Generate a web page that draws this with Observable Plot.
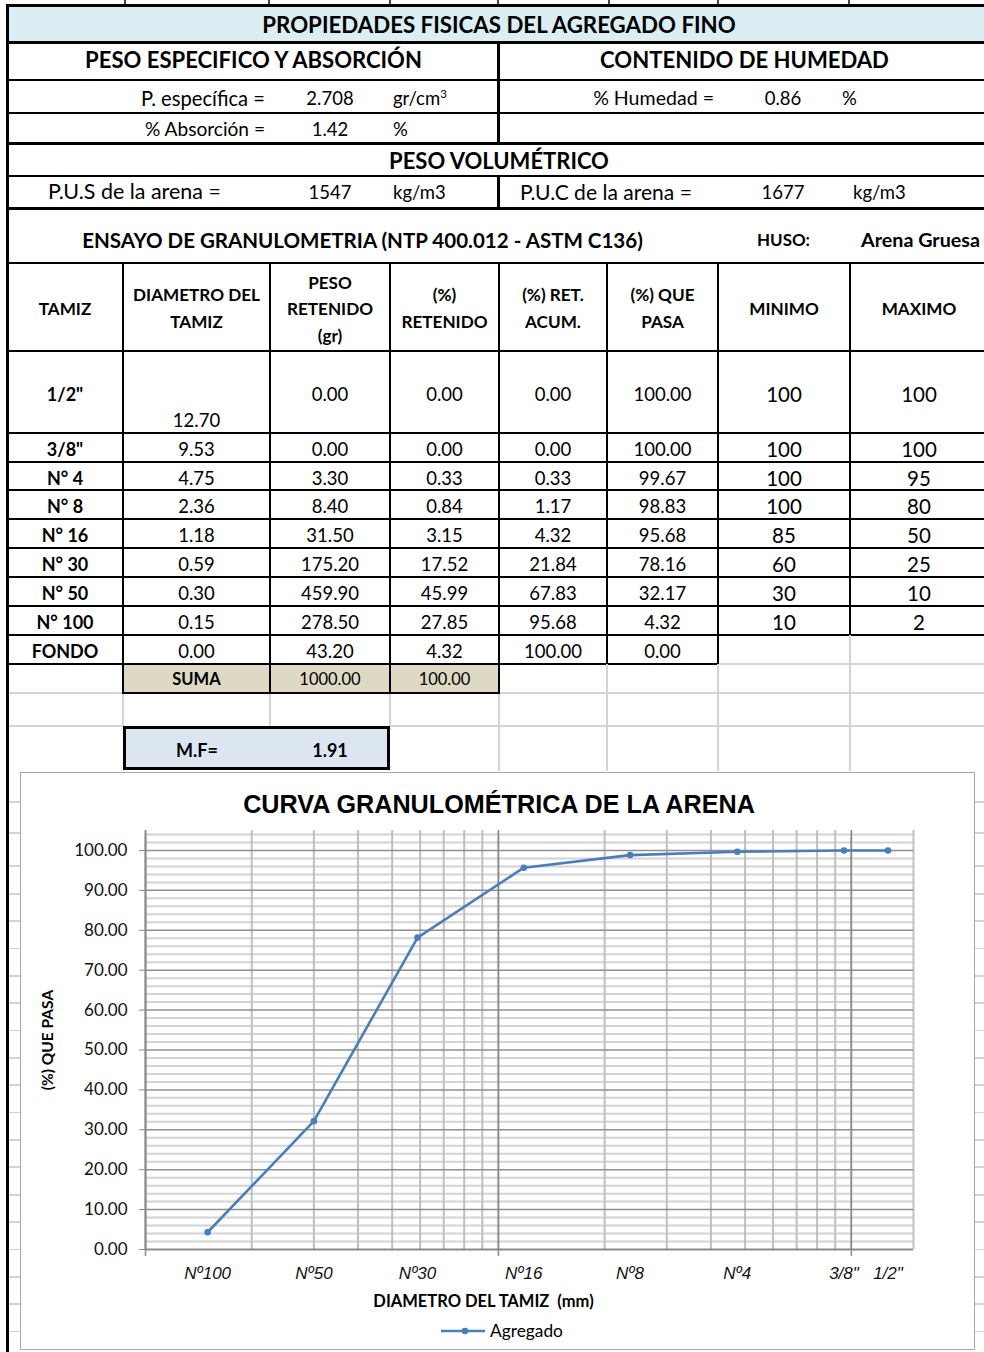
<!DOCTYPE html>
<html><head><meta charset="utf-8">
<script src="https://cdn.jsdelivr.net/npm/d3@7"></script>
<script src="https://cdn.jsdelivr.net/npm/@observablehq/plot@0.6"></script>
<style>
body{margin:0;background:#fff;font-family:Lato,sans-serif;}
#page{position:relative;width:984px;height:1352px;overflow:hidden;background:#fff;}
</style></head><body><div id="page"></div>
<script>
// ---------------- DATA ----------------
const tamiz = ['1/2"', '3/8"', 'N° 4', 'N° 8', 'N° 16', 'N° 30', 'N° 50', 'N° 100', 'FONDO'];
const diametro = [12.70, 9.53, 4.75, 2.36, 1.18, 0.59, 0.30, 0.15, 0.00];
const pesoRetenido = [0.00, 0.00, 3.30, 8.40, 31.50, 175.20, 459.90, 278.50, 43.20];
const pctRetenido = [0.00, 0.00, 0.33, 0.84, 3.15, 17.52, 45.99, 27.85, 4.32];
const retAcum = [0.00, 0.00, 0.33, 1.17, 4.32, 21.84, 67.83, 95.68, 100.00];
const quePasa = [100.00, 100.00, 99.67, 98.83, 95.68, 78.16, 32.17, 4.32, 0.00];
const minimo = [100, 100, 100, 100, 85, 60, 30, 10];
const maximo = [100, 100, 95, 80, 50, 25, 10, 2];
const chartLabels = ['1/2"', '3/8"', 'Nº4', 'Nº8', 'Nº16', 'Nº30', 'Nº50', 'Nº100'];
const sumaPeso = 1000.00, sumaPct = 100.00, moduloFinura = 1.91;
const pEspecifica = 2.708, absorcion = 1.42, humedad = 0.86, pus = 1547, puc = 1677;
const husoNombre = 'Arena Gruesa';
const yTicks = [0, 10, 20, 30, 40, 50, 60, 70, 80, 90, 100];

// ---------------- HELPERS ----------------
const page = document.getElementById('page');
function el(css, html) { const e = document.createElement('div'); e.style.cssText = 'position:absolute;' + css; if (html != null) e.innerHTML = html; page.appendChild(e); return e; }
function rect(x1, y1, x2, y2, bg, extra = '') { el(`left:${x1}px;top:${y1}px;width:${x2 - x1}px;height:${y2 - y1}px;background:${bg};${extra}`); }
function hl(x1, x2, y, w = 2, c = '#000') { el(`left:${x1}px;top:${y - w / 2}px;width:${x2 - x1}px;height:${w}px;background:${c}`); }
function vl(x, y1, y2, w = 2, c = '#000') { el(`left:${x - w / 2}px;top:${y1}px;width:${w}px;height:${y2 - y1}px;background:${c}`); }
function txt(s, x, y, o = {}) {
  const a = o.a || 'm', size = o.size || 18.5;
  const tx = a === 'm' ? '-50%' : a === 'e' ? '-100%' : '0';
  const e = el(`white-space:pre;line-height:1;font-family:${o.font || 'Lato'},sans-serif;font-size:${size}px;font-weight:${o.bold ? (o.weight || 'bold') : 'normal'};font-style:${o.italic ? 'italic' : 'normal'};color:#000;left:${x}px;top:${y}px;transform:translate(${tx},-50%)`, o.html ? s : null);
  if (!o.html) e.textContent = s;
  if (o.w) { const w = e.getBoundingClientRect().width; e.style.fontSize = (size * o.w / w) + 'px'; }
  return e;
}
const f2 = v => v.toFixed(2);
const LG = '#d4d4d4';

// ---------------- SPREADSHEET ----------------
const L = 7, R = 984;
const colC = [65, 196.5, 330, 444.5, 553, 662.5, 784, 919];
const rowB = [351, 433, 462, 490, 519, 548, 577, 606, 635, 664, 693];

[125, 269, 390, 498, 609, 718, 849].forEach(x => vl(x, 0, 5, 2, '#444'));
rect(L, 5, R, 42, '#daeef3');
hl(L, R, 5, 3); hl(L, R, 42, 3); hl(L, R, 80, 2); hl(L, R, 113, 2); hl(L, R, 143, 3); hl(L, R, 176, 2); hl(L, R, 208, 3); hl(L, R, 263, 2);
vl(498, 42, 143, 3); vl(498, 176, 208, 3);

txt('PROPIEDADES FISICAS DEL AGREGADO FINO', 499, 25, { bold: true, size: 20, w: 474 });
txt('PESO ESPECIFICO Y ABSORCIÓN', 253.5, 60, { bold: true, size: 21, w: 337 });
txt('CONTENIDO DE HUMEDAD', 744.5, 60, { bold: true, size: 21, w: 289 });
txt('P. específica =', 265, 98, { a: 'e', size: 17, w: 124 });
txt(pEspecifica.toFixed(3), 330, 98, { size: 18.5 });
txt('gr/cm<sup style="font-size:0.62em;line-height:0;vertical-align:0.55em">3</sup>', 393, 98, { a: 's', size: 18.5, html: true });
txt('% Humedad =', 714, 98, { a: 'e', size: 17, w: 121 });
txt(f2(humedad), 783, 98, { size: 18.5 });
txt('%', 842, 98, { a: 's', size: 18.5 });
txt('% Absorción =', 265, 128.5, { a: 'e', size: 17, w: 120 });
txt(f2(absorcion), 330, 128.5, { size: 18.5 });
txt('%', 393, 128.5, { a: 's', size: 18.5 });
txt('PESO VOLUMÉTRICO', 499, 160.5, { bold: true, size: 21, w: 220 });
txt('P.U.S de la arena =', 48, 192, { a: 's', size: 17, w: 173 });
txt(String(pus), 330, 192, { size: 18.5 });
txt('kg/m3', 393, 192, { a: 's', size: 18.5 });
txt('P.U.C de la arena =', 520, 192, { a: 's', size: 17, w: 172 });
txt(String(puc), 783, 192, { size: 18.5 });
txt('kg/m3', 853, 192, { a: 's', size: 18.5 });
txt('ENSAYO DE GRANULOMETRIA (NTP 400.012 - ASTM C136)', 362.5, 240, { bold: true, size: 19.5, w: 561 });
txt('HUSO:', 783.5, 240, { bold: true, size: 17, w: 53 });
txt(husoNombre, 920.5, 240, { bold: true, size: 17, w: 119 });

// table header (shared size taken from the widest header line)
const hsEl = txt('DIAMETRO DEL', colC[1], 295, { bold: true, size: 17, w: 127 });
const hs = parseFloat(hsEl.style.fontSize);
const H = (s, x, y) => txt(s, x, y, { bold: true, size: hs });
H('TAMIZ', colC[0], 309);
H('TAMIZ', colC[1], 322);
H('PESO', colC[2], 282.5); H('RETENIDO', colC[2], 309); H('(gr)', colC[2], 336);
H('(%)', colC[3], 295); H('RETENIDO', colC[3], 322);
H('(%) RET.', colC[4], 295); H('ACUM.', colC[4], 322);
H('(%) QUE', colC[5], 295); H('PASA', colC[5], 322);
H('MINIMO', colC[6], 309); H('MAXIMO', colC[7], 309);

// table lines
rowB.slice(0, 9).forEach(y => hl(L, R, y, 2));
hl(L, 718, 664, 2); hl(718, R, 664, 1.5, LG);
hl(L, 123, 693, 1.5, LG); hl(499, R, 693, 1.5, LG);
hl(L, 123, 726, 1.5, LG); hl(390, R, 726, 1.5, LG);
[123, 270, 390, 499, 607].forEach(x => vl(x, 263, 664, 2));
vl(718, 263, 664, 2); vl(850, 263, 635, 2);
vl(850, 635, 771, 1.5, LG);
rect(123, 664, 499, 693, '#ddd9c4');
[123, 270, 390, 499].forEach(x => vl(x, 663, 694, 2));
hl(123, 499, 664, 2); hl(123, 499, 693, 2);
[607, 718].forEach(x => vl(x, 664, 771, 1.5, LG));
[123, 270, 390, 499].forEach(x => vl(x, 694, 726, 1.5, LG));
vl(499, 726, 771, 1.5, LG);
rect(123, 726, 390, 770, '#dce6f1', 'box-sizing:border-box;border:3px solid #000');

for (let i = 0; i < tamiz.length; i++) {
  const y0 = rowB[i], y1 = rowB[i + 1], yc = (y0 + y1) / 2 + 1.5;
  txt(tamiz[i], colC[0], yc, { bold: true, size: 18 });
  txt(f2(diametro[i]), colC[1], i === 0 ? y1 - 13 : yc, { size: 18.5 });
  txt(f2(pesoRetenido[i]), colC[2], yc, { size: 18.5 });
  txt(f2(pctRetenido[i]), colC[3], yc, { size: 18.5 });
  txt(f2(retAcum[i]), colC[4], yc, { size: 18.5 });
  txt(f2(quePasa[i]), colC[5], yc, { size: 18.5 });
  if (i < minimo.length) {
    txt(String(minimo[i]), colC[6], yc, { size: 20.5 });
    txt(String(maximo[i]), colC[7], yc, { size: 20.5 });
  }
}
txt('SUMA', 196.5, 678.5, { bold: true, size: 16.5 });
txt(f2(sumaPeso), 330, 678.5, { size: 16.5 });
txt(f2(sumaPct), 444.5, 678.5, { size: 16.5 });
txt('M.F=', 197, 749.5, { bold: true, size: 18 });
txt(f2(moduloFinura), 330, 749.5, { bold: true, size: 18 });

[802, 833, 866, 894, 921, 948.5, 976, 1003, 1030.5, 1058, 1085, 1112.5, 1140, 1167, 1195, 1222, 1249.5, 1277, 1304, 1331.5].forEach(y => { hl(L, 20, y, 1.5, LG); hl(975, R, y, 1.5, LG); });
vl(L, 4, 1352, 3);

// ---------------- CHART ----------------
rect(20, 772, 975, 1350, '#fff', 'box-sizing:border-box;border:1.5px solid #a6a6a6');
txt('CURVA GRANULOMÉTRICA DE LA ARENA', 499, 804.5, { bold: true, weight: 900, size: 21, font: 'Liberation Sans', w: 512 });

const pts = diametro.slice(0, chartLabels.length).map((d, i) => ({ d, p: quePasa[i], label: chartLabels[i] }));
const minorX = [0.2, 0.3, 0.4, 0.5, 0.6, 0.7, 0.8, 0.9, 2, 3, 4, 5, 6, 7, 8, 9, 15];
const minorY = d3.range(2, 105, 2).filter(v => v % 10 !== 0);
const blue = '#4a7ebb';

const chart = Plot.plot({
  width: 955, height: 500,
  marginLeft: 125, marginRight: 62, marginTop: 10, marginBottom: 71,
  style: { fontFamily: 'Lato, sans-serif', background: 'none', overflow: 'visible' },
  x: { type: 'log', domain: [0.1, 15], axis: null },
  y: { domain: [0, 105] },
  marks: [
    Plot.gridY({ ticks: minorY, stroke: '#d3d3d3', strokeOpacity: 1, strokeWidth: 2 }),
    Plot.gridX({ ticks: minorX, stroke: '#bfbfbf', strokeOpacity: 1, strokeWidth: 2 }),
    Plot.gridY({ ticks: yTicks.slice(1), stroke: '#8f8f8f', strokeOpacity: 1, strokeWidth: 1.5 }),
    Plot.gridX({ ticks: [1, 10], stroke: '#7f7f7f', strokeOpacity: 1, strokeWidth: 1.5 }),
    Plot.ruleX([0.1], { stroke: '#8a8a8a', strokeWidth: 2 }),
    Plot.ruleY([0], { stroke: '#8a8a8a', strokeWidth: 2 }),
    Plot.axisY({ ticks: yTicks, tickFormat: d => d.toFixed(2), tickSize: 6, tickPadding: 12, fontSize: 17, stroke: '#8a8a8a', fill: '#111', label: null }),
    Plot.tickX([0.1, 1, 10], { x: d => d, stroke: '#8a8a8a', strokeWidth: 1.5, dy: 7 }),
    Plot.text(pts, { x: 'd', text: 'label', frameAnchor: 'bottom', lineAnchor: 'middle', dy: 24, fontSize: 17, fontStyle: 'italic', fontFamily: 'Liberation Sans, Arial, sans-serif', fill: '#111' }),
    Plot.line(pts, { x: 'd', y: 'p', stroke: blue, strokeWidth: 2.6 }),
    Plot.dot(pts, { x: 'd', y: 'p', r: 3.3, fill: blue, stroke: 'none' }),
    Plot.text(['(%) QUE PASA'], { frameAnchor: 'left', textAnchor: 'middle', lineAnchor: 'middle', rotate: -90, dx: -97, fontWeight: 'bold', fontSize: 15.5, fill: '#000' }),
    Plot.text(['DIAMETRO DEL TAMIZ\u00a0 (mm)'], { frameAnchor: 'bottom', lineAnchor: 'middle', dx: -46, dy: 52, fontWeight: 'bold', fontSize: 16.5, fill: '#000' })
  ]
});
const holder = el('left:20px;top:820px;width:955px;height:500px;');
holder.appendChild(chart);

const lg = el('left:441px;top:1320px;width:140px;height:22px;');
lg.innerHTML = `<svg width="48" height="22" style="position:absolute;left:0;top:0"><line x1="0" x2="44" y1="11" y2="11" stroke="${blue}" stroke-width="2.6"/><circle cx="24" cy="11" r="3.3" fill="${blue}"/></svg>`;
txt('Agregado', 490, 1331, { a: 's', size: 17, w: 73 });
</script></body></html>
